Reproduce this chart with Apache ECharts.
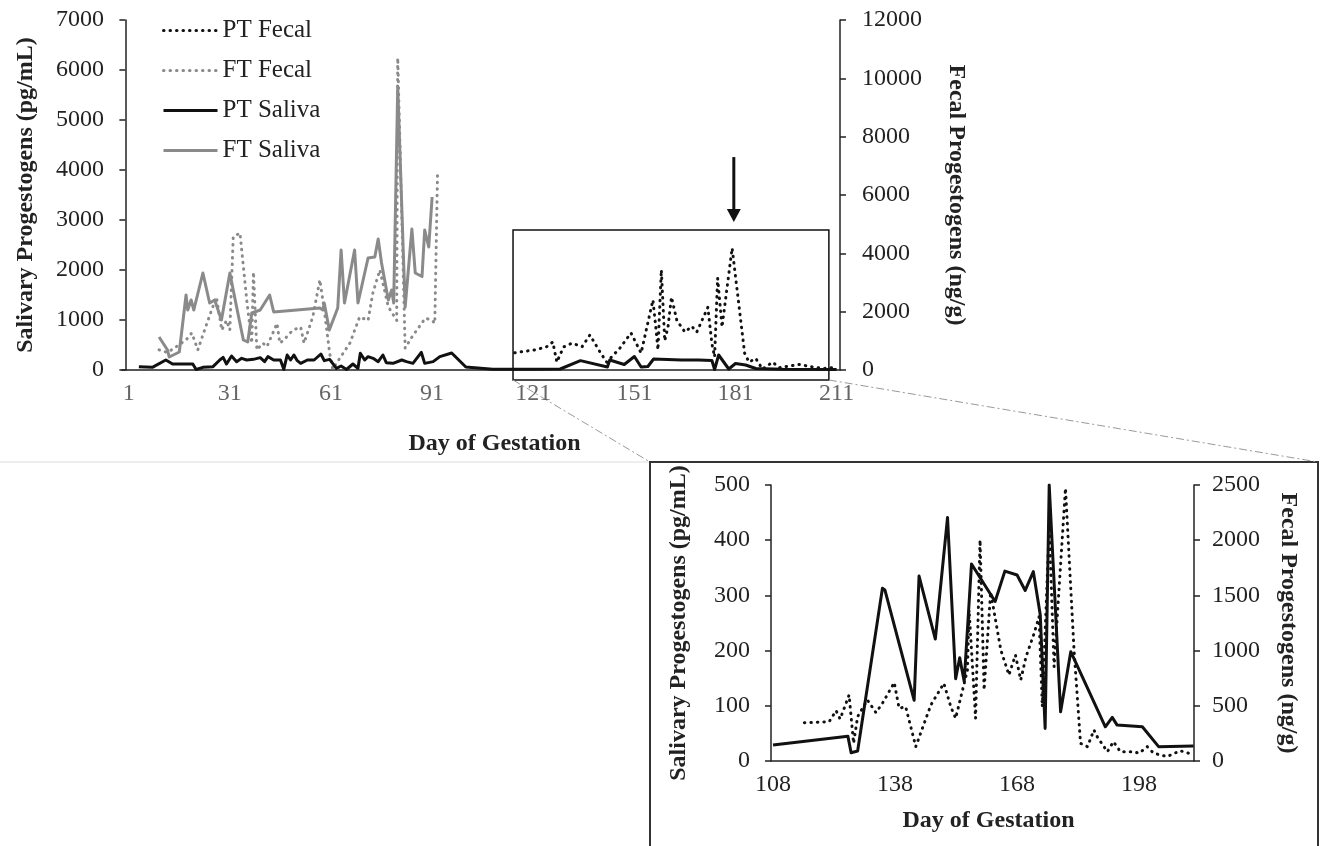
<!DOCTYPE html>
<html>
<head>
<meta charset="utf-8">
<script src="https://cdn.jsdelivr.net/npm/echarts@6/dist/echarts.min.js"></script>
<style>
html,body{margin:0;padding:0;background:#fff;}
#main{width:1321px;height:846px;}
</style>
</head>
<body>
<div id="main"></div>
<script>
// main chart, days 1-211
var ptSalivaDays = [4,8,12,14,20,21,23,26,28,29,30,31.5,33,34.5,36,38,40,41.3,42.3,44,46,47,48,49,50,51,52,54,56,58,59,60.6,62.6,64,65.6,67.5,69,69.7,71,72,73.5,75,76.4,77.4,79.4,82,83.4,85.3,87.8,88.8,91.3,93.3,96.8,101,109,121,129,135,143,143.7,148,151,153,155,156.7,165,170,174,174.8,176,179,181,184,187,195,211];
var ptSalivaVals = [67,53,200,120,120,10,53,67,200,253,120,280,167,233,200,213,247,167,267,200,200,13,300,200,300,187,133,200,200,320,187,213,33,80,10,120,33,333,200,267,233,167,300,147,133,200,167,133,353,133,167,267,340,60,15,15,20,187,60,200,110,270,60,70,220,200,200,190,10,300,20,130,100,30,15,10];

var ftSalivaDays = [10,12.5,13,16,18,18.5,19.5,20.3,23,25,26.5,28.5,31,33,35,36.3,37.5,40,42.8,44,57.7,58.6,59,60.5,63,64,65,68,69,72,74,75,76,78,79,79.6,80.8,83,85,86,88,88.8,90,91];
var ftSalivaVals = [660,400,260,360,1500,1200,1400,1200,1940,1340,1400,1000,1940,1260,600,560,1140,1200,1500,1160,1240,1200,1340,800,1240,2400,1340,2400,1340,2240,2260,2620,2140,1400,1600,1340,5660,1260,2820,1940,1870,2800,2460,3460];

var ptFecalDays = [115.5,122,125,126.8,128,130,132.5,135.5,137.8,141,142.8,146.7,150,153,156.5,157.5,158,159,160,161,162,163.6,166,168,169.5,172.8,174,174.8,175.7,177,180,183.7,185,187,189,192,194,200,203,207,209.8];
var ptFecalVals = [590,700,800,960,270,790,920,800,1200,580,270,750,1270,580,2400,1300,690,3430,1000,1500,2500,1700,1300,1500,1300,2150,900,450,3150,1470,4180,580,270,400,30,270,80,190,120,50,80];

var ftFecalDays = [10,12.5,15,18,19.7,21.5,23.5,25.6,27,28.6,30,31,32,34,36,37.5,38,39,40.8,42,45,45.8,47,49.7,52,53,55.6,57.7,59,60.6,61.5,63.6,66.6,69.5,72,73.4,75.5,78,80.5,80.8,83,85,89,91,91.8,92.6];
var ftFecalVals = [690,600,790,1030,1270,690,1370,2060,2500,1370,1700,1370,4560,4700,2400,920,3360,690,920,800,1600,920,1030,1370,1470,920,1820,3090,2060,580,30,400,920,1820,1700,2630,3430,2170,1700,10700,750,1130,1780,1700,1600,6690];

// inset, days 108-211
var inSalivaDays = [108,126.4,127.2,128.8,134.9,135.5,142.7,143.9,147.9,150.9,152.9,153.9,155,156.8,162.6,165,168,170,172,173.7,174.9,175.9,178.7,181.2,189.7,191.4,192.6,198.8,202.8,211.4];
var inSalivaVals = [29,45,15,18,313,310,110,335,221,441,149,187,144,357,289,344,337,309,343,265,59,500,89,198,62,79,65,62,26,27];

var inFecalDays = [115.7,118,121.8,123.5,124.5,126.7,127.8,128.8,131.2,133.3,134.9,137.8,139,140.6,143.1,144.3,146.8,150,151.7,152.9,155.8,156.2,157.8,158.9,159.9,161.5,164,166,167.6,168.9,170.2,172.2,173.4,174.2,175.9,177.1,179.9,182,183.6,185.3,186.9,187.7,190.2,191.7,193.4,196.7,198,200,201.6,204.9,208.1,210.2];
var inFecalVals = [347,350,356,456,380,598,160,402,553,438,523,710,477,492,130,253,507,704,492,387,824,1368,387,2002,643,1530,1006,779,960,734,945,1157,1307,492,2123,854,2470,1006,160,130,281,220,84,175,84,84,70,130,70,40,93,70];

var mainTicks = [1,31,61,91,121,151,181,211];
var insetTicks = [108,138,168,198];

var serif = '"Liberation Serif", "Times New Roman", serif';
var black = '#111';
var gray = '#8a8a8a';

function pairs(d, v) {
    return d.map(function (x, i) { return [x, v[i]]; });
}

function lineSeries(name, xi, yi, data, color, dotted) {
    return {
        name: name,
        type: 'line',
        xAxisIndex: xi,
        yAxisIndex: yi,
        data: data,
        showSymbol: false,
        symbol: 'none',
        clip: true,
        lineStyle: {
            color: color,
            width: 3,
            type: dotted ? [0.5, 6] : 'solid',
            cap: dotted ? 'round' : 'butt',
            join: 'round'
        },
        itemStyle: {color: color}
    };
}

function yAxisCfg(grid, pos, max, interval, name, gap, rot, margin) {
    return {
        type: 'value',
        gridIndex: grid,
        position: pos,
        min: 0,
        max: max,
        interval: interval,
        axisLine: {show: true, lineStyle: {color: '#222', width: 1.5}},
        axisTick: {show: true, length: 6, lineStyle: {color: '#222', width: 1.5}},
        splitLine: {show: false},
        axisLabel: {color: '#222', fontSize: 24, fontFamily: serif, margin: margin,
            formatter: function (v) { return String(v); }},
        name: name,
        nameLocation: 'middle',
        nameGap: gap,
        nameRotate: rot,
        nameTextStyle: {fontWeight: 'bold', fontSize: 24, color: '#222', fontFamily: serif}
    };
}

function xAxisCfg(grid, min, max, ticks, labelColor, gap, shift) {
    return {
        type: 'value',
        gridIndex: grid,
        min: min,
        max: max,
        axisLine: {lineStyle: {color: '#222', width: 1.5}},
        axisTick: {show: false},
        splitLine: {show: false},
        axisLabel: {customValues: ticks, color: labelColor, fontSize: 24, fontFamily: serif, margin: 12,
            formatter: function (v) { return String(v); }},
        name: 'Day of Gestation',
        nameLocation: 'middle',
        nameGap: gap,
        nameTextStyle: {fontWeight: 'bold', fontSize: 24, color: '#222', fontFamily: serif,
            padding: [0, 0, 0, shift]}
    };
}

var myChart = echarts.init(document.getElementById('main'));

myChart.setOption({
    animation: false,
    backgroundColor: '#fff',
    textStyle: {fontFamily: serif},
    legend: {
        data: ['PT Fecal', 'FT Fecal', 'PT Saliva', 'FT Saliva'],
        orient: 'vertical',
        left: 157,
        top: 13,
        itemWidth: 54,
        itemHeight: 14,
        itemGap: 15,
        itemStyle: {opacity: 0},
        lineStyle: {width: 3},
        textStyle: {fontSize: 25, color: '#222', fontFamily: serif}
    },
    grid: [
        {left: 122, top: 20, width: 718, height: 350},
        {left: 771, top: 485, width: 423, height: 276}
    ],
    xAxis: [
        xAxisCfg(0, -1, 212, mainTicks, '#666', 62, 27),
        xAxisCfg(1, 107.5, 211.5, insetTicks, '#222', 48, 12)
    ],
    yAxis: [
        yAxisCfg(0, 'left', 7000, 1000, 'Salivary Progestogens (pg/mL)', 84, 90, 18),
        yAxisCfg(0, 'right', 12000, 2000, 'Fecal Progestogens (ng/g)', 104, -90, 22),
        yAxisCfg(1, 'left', 500, 100, 'Salivary Progestogens (pg/mL)', 80, 90, 21),
        yAxisCfg(1, 'right', 2500, 500, 'Fecal Progestogens (ng/g)', 82, -90, 18)
    ],
    series: [
        lineSeries('FT Fecal', 0, 1, pairs(ftFecalDays, ftFecalVals), gray, true),
        lineSeries('PT Fecal', 0, 1, pairs(ptFecalDays, ptFecalVals), black, true),
        lineSeries('FT Saliva', 0, 0, pairs(ftSalivaDays, ftSalivaVals), gray, false),
        lineSeries('PT Saliva', 0, 0, pairs(ptSalivaDays, ptSalivaVals), black, false),
        lineSeries('PT Fecal', 1, 3, pairs(inFecalDays, inFecalVals), black, true),
        lineSeries('PT Saliva', 1, 2, pairs(inSalivaDays, inSalivaVals), black, false)
    ]
});

// zoom box, arrow and connectors, placed through the axes
var boxDays = [115, 208.7];
var boxTop = 4800;
var arrowDay = 180.5;
var arrowFrom = 7300, arrowTo = 5075;

var p0 = myChart.convertToPixel({xAxisIndex: 0, yAxisIndex: 1}, [boxDays[0], boxTop]);
var p1 = myChart.convertToPixel({xAxisIndex: 0, yAxisIndex: 1}, [boxDays[1], 0]);
var boxBottom = p1[1] + 10;
var a0 = myChart.convertToPixel({xAxisIndex: 0, yAxisIndex: 1}, [arrowDay, arrowFrom]);
var a1 = myChart.convertToPixel({xAxisIndex: 0, yAxisIndex: 1}, [arrowDay, arrowTo]);

var frame = {x: 650, y: 462, w: 668, h: 400};

myChart.setOption({
    graphic: [
        {type: 'line', shape: {x1: 0, y1: frame.y, x2: frame.x, y2: frame.y},
            style: {stroke: '#dcdcdc', lineWidth: 1}},
        {type: 'rect', shape: {x: frame.x, y: frame.y, width: frame.w, height: frame.h},
            style: {fill: 'none', stroke: '#333', lineWidth: 2}},
        {type: 'rect', shape: {x: p0[0], y: p0[1], width: p1[0] - p0[0], height: boxBottom - p0[1]},
            style: {fill: 'none', stroke: '#111', lineWidth: 1.5}},
        {type: 'line', shape: {x1: p0[0], y1: boxBottom, x2: frame.x, y2: frame.y},
            style: {stroke: '#9a9a9a', lineWidth: 1, lineDash: [8, 3, 2, 3]}},
        {type: 'line', shape: {x1: p1[0], y1: boxBottom, x2: frame.x + frame.w, y2: frame.y},
            style: {stroke: '#9a9a9a', lineWidth: 1, lineDash: [8, 3, 2, 3]}},
        {type: 'line', shape: {x1: a0[0], y1: a0[1], x2: a1[0], y2: a1[1] - 10},
            style: {stroke: '#111', lineWidth: 3}},
        {type: 'polygon', shape: {points: [[a1[0] - 7, a1[1] - 13], [a1[0] + 7, a1[1] - 13], [a1[0], a1[1]]]},
            style: {fill: '#111'}}
    ]
});
</script>
</body>
</html>
